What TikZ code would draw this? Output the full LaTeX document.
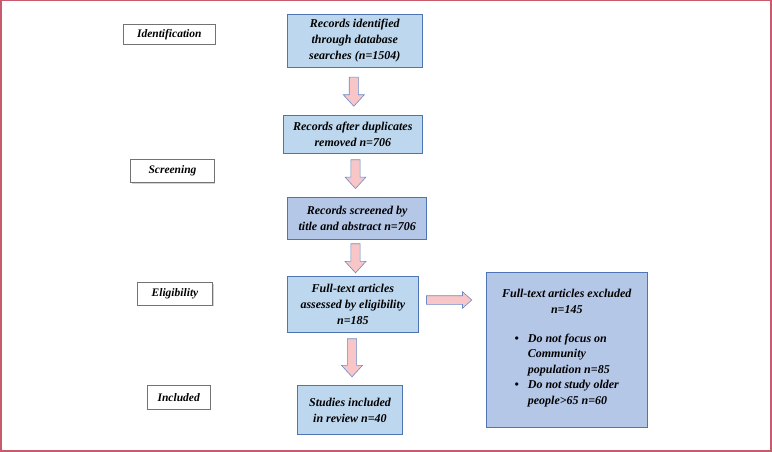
\documentclass[tikz,border=0pt]{standalone}
\usepackage{fontspec}
\setmainfont{Liberation Serif}
\usetikzlibrary{calc,shadows}

\definecolor{boxblue}{HTML}{BDD7EE}
\definecolor{boxlav}{HTML}{B4C7E7}
\definecolor{boxline}{HTML}{4F74B3}
\definecolor{arrowpink}{HTML}{F8C6C6}
\definecolor{arrowline}{HTML}{6A8BC8}
\definecolor{framered}{HTML}{C85A6E}

\tikzset{
  stagebox/.style={draw=black!55, fill=white, line width=0.6pt, inner sep=0pt,
    font=\bfseries\itshape\fontsize{11.5}{14}\selectfont,
    drop shadow={shadow xshift=0.8pt, shadow yshift=-0.8pt, opacity=0.35}},
  flowbox/.style={draw=boxline, fill=boxblue, line width=0.9pt, align=center, inner sep=2pt,
    font=\bfseries\itshape\fontsize{12}{16}\selectfont},
  blockarrow/.style={draw=arrowline, fill=arrowpink, line width=0.6pt, line join=miter}
}

% vertical block arrow: #1 top of shaft, #2 tip
\newcommand{\blockdown}[2]{%
  \path[blockarrow] let \p1=#1, \p2=#2 in
    (\x1-4.6pt,\y1) -- (\x1+4.6pt,\y1) -- (\x1+4.6pt,\y2+11.5pt) -- (\x1+10.5pt,\y2+11.5pt)
    -- (\x1,\y2) -- (\x1-10.5pt,\y2+11.5pt) -- (\x1-4.6pt,\y2+11.5pt) -- cycle;}
% horizontal block arrow: #1 tail, #2 tip
\newcommand{\blockright}[2]{%
  \path[blockarrow] let \p1=#1, \p2=#2 in
    (\x1,\y1+4.3pt) -- (\x2-9.3pt,\y1+4.3pt) -- (\x2-9.3pt,\y1+8.3pt) -- (\x2,\y1)
    -- (\x2-9.3pt,\y1-8.3pt) -- (\x2-9.3pt,\y1-4.3pt) -- (\x1,\y1-4.3pt) -- cycle;}

\begin{document}
\begin{tikzpicture}[x=1pt, y=1pt]
  \useasboundingbox (0,0) rectangle (772,-452);
  \draw[framered, line width=1.5pt] (0.75,-0.75) rectangle (770.9,-450.9);

  % stage labels
  \node[stagebox, minimum width=92pt, minimum height=20.3pt] (ident) at (169.3,-34.2) {Identification};
  \node[stagebox, minimum width=83.6pt, minimum height=23.4pt] (screen) at (172.5,-171) {Screening};
  \node[stagebox, minimum width=75.4pt, minimum height=22.6pt] (elig) at (175,-294) {Eligibility};
  \node[stagebox, minimum width=62.7pt, minimum height=24.3pt] (inclabel) at (178.7,-397.2) {Included};

  % flow boxes
  \node[flowbox, minimum width=135pt, minimum height=52.6pt] (rec1) at (354.8,-41)
    {Records identified\\through database\\searches (n=1504)};
  \node[flowbox, minimum width=139pt, minimum height=38pt] (rec2) at (352.8,-134.3)
    {Records after duplicates\\removed n=706};
  \node[flowbox, fill=boxlav, minimum width=139pt, minimum height=42pt] (rec3) at (357.2,-218.3)
    {Records screened by\\title and abstract n=706};
  \node[flowbox, minimum width=130.3pt, minimum height=56pt] (full) at (352.9,-304.7)
    {Full-text articles\\assessed by eligibility\\n=185};
  \node[flowbox, minimum width=105.4pt, minimum height=48.6pt] (incl) at (350,-410)
    {Studies included\\in review n=40};
  \node[flowbox, fill=boxlav, minimum width=160.3pt, minimum height=155pt] (excl) at (566.8,-349.8)
    {Full-text articles excluded\\n=145\\[17pt]
     {\fontsize{12}{15.5}\selectfont
     \begin{tabular}{@{}l@{\hspace{9pt}}l@{}}
       \textbullet & Do not focus on\\
                   & Community\\
                   & population n=85\\
       \textbullet & Do not study older\\
                   & people>65 n=60
     \end{tabular}}\\[1pt]};

  % block arrows
  \blockdown{($(rec1.south)+(-1,-9.4)$)}{($(rec2.north)+(0,8.6)$)}
  \blockdown{($(rec2.south)+(2.7,-6)$)}{($(rec3.north)+(0,8.3)$)}
  \blockdown{($(rec3.south)+(-1.7,-4)$)}{($(full.north)+(0,3.4)$)}
  \blockdown{($(full.south)+(-0.9,-5.6)$)}{($(incl.north)+(0,8.4)$)}
  \blockright{($(full.east)+(8,4.7)$)}{($(excl.west)+(-14.4,0)$)}
\end{tikzpicture}
\end{document}
